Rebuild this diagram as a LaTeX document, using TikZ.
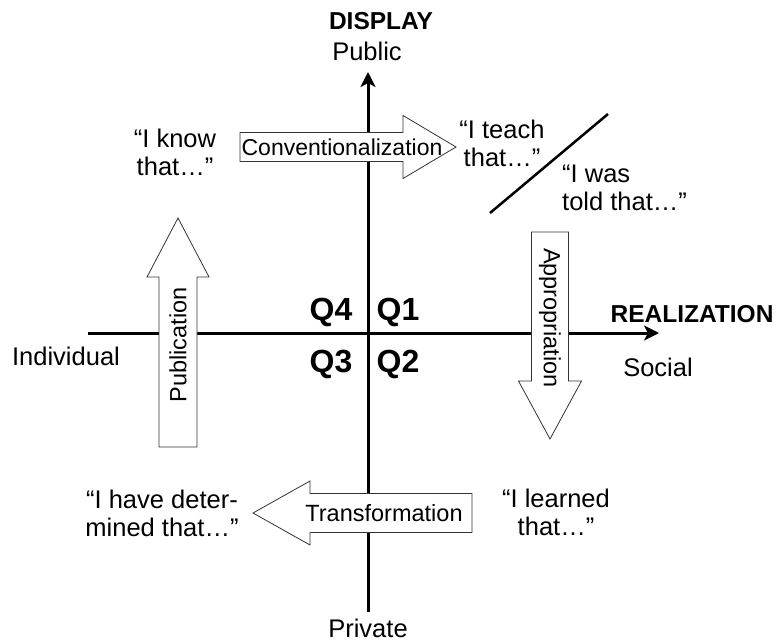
\documentclass[tikz,border=0pt]{standalone}
\usepackage{fontspec}
\setmainfont{Liberation Sans}
\usetikzlibrary{arrows.meta}

\begin{document}
\begin{tikzpicture}[x=1pt, y=-1pt,
    txt/.style={font=\fontsize{25.5}{28}\selectfont, inner sep=0pt, align=center},
    inarrow/.style={font=\fontsize{23.5}{27}\selectfont, inner sep=0pt},
    bold/.style={font=\fontsize{24.5}{28}\selectfont\bfseries, inner sep=0pt},
    quad/.style={font=\fontsize{32}{36}\selectfont\bfseries, inner sep=0pt},
    axis/.style={line width=3pt, -{Stealth[length=15pt, width=15pt, inset=4pt]}},
    blockarrow/.style={draw=black!80, line width=0.8pt, fill=white}]
      \useasboundingbox (0, 0) rectangle (776, 642);

      % axes
      \draw[axis] (88, 333) -- (659, 333);
      \draw[axis] (368, 612) -- (368, 72);

      \node[bold, anchor=base] (display) at (381, 30) {DISPLAY};
      \node[txt, anchor=base] (public) at (367, 60) {Public};
      \node[txt, anchor=base] (private) at (368, 637) {Private};
      \node[bold, anchor=base] (realization) at (692, 322) {REALIZATION};
      \node[txt, anchor=base] (social) at (658, 376) {Social};
      \node[txt, anchor=base] (individual) at (66, 365) {Individual};

      % quadrants
      \node[quad, anchor=base] (q4) at (331, 320) {Q4};
      \node[quad, anchor=base] (q1) at (398, 320) {Q1};
      \node[quad, anchor=base] (q3) at (331, 372) {Q3};
      \node[quad, anchor=base] (q2) at (398, 372) {Q2};

      % block arrows
      \draw[blockarrow] (240, 132.5) -- (403, 132.5) -- (403, 115.5) -- (456, 147)
        -- (403, 178.5) -- (403, 161.5) -- (240, 161.5) -- cycle;
      \node[inarrow, font=\fontsize{23}{27}\selectfont] (conv) at (342, 147) {Conventionalization};

      \draw[blockarrow] (531.5, 232) -- (568.5, 232) -- (568.5, 381) -- (581.5, 381) -- (550, 439)
        -- (518.5, 381) -- (531.5, 381) -- cycle;
      \node[inarrow, rotate=-90] (appr) at (550, 318) {Appropriation};

      \draw[blockarrow] (472, 493.5) -- (310, 493.5) -- (310, 481) -- (253, 513)
        -- (310, 545) -- (310, 532.5) -- (472, 532.5) -- cycle;
      \node[inarrow] (trans) at (384, 513) {Transformation};

      \draw[blockarrow] (159, 447) -- (159, 277) -- (147, 277) -- (178, 218)
        -- (209, 277) -- (197, 277) -- (197, 447) -- cycle;
      \node[inarrow, rotate=90] (publ) at (178, 345) {Publication};

      % statements
      \node[txt] (know) at (175, 152) {``I know\\that\dots''};
      \node[txt] (teach) at (502, 143) {``I teach\\that\dots''};
      \node[txt, align=left, anchor=west] (told) at (562, 188) {``I was\\told that\dots''};
      \node[txt] (determined) at (162, 513) {``I have deter-\\mined that\dots''};
      \node[txt] (learned) at (556, 512) {``I learned\\that\dots''};

      \draw[line width=2.5pt] (490, 213) -- (608, 114);
    \end{tikzpicture}
\end{document}
